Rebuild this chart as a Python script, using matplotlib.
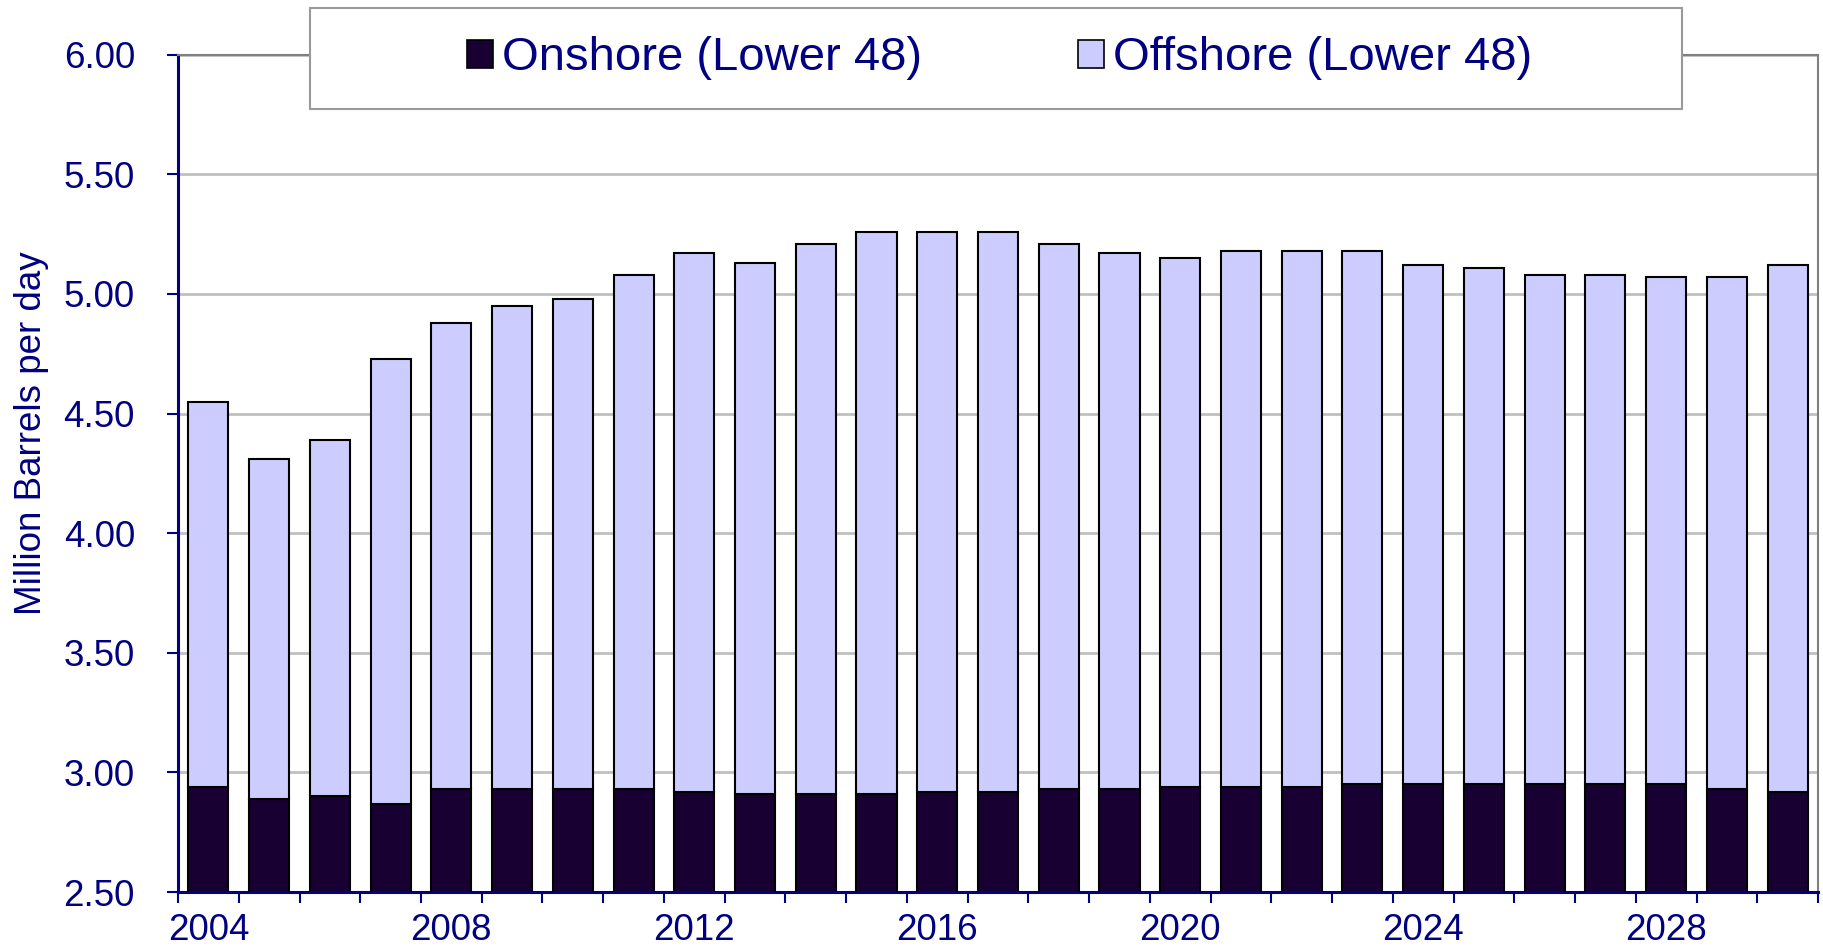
import numpy as np
import matplotlib
matplotlib.use("Agg")
import matplotlib.pyplot as plt
from matplotlib.patches import Rectangle, Patch

# values (million barrels per day)
years = list(range(2004, 2031))
onshore = [2.94, 2.89, 2.90, 2.87, 2.93, 2.93, 2.93, 2.93, 2.92, 2.91,
           2.91, 2.91, 2.92, 2.92, 2.93, 2.93, 2.94, 2.94, 2.94, 2.95,
           2.95, 2.95, 2.95, 2.95, 2.95, 2.93, 2.92]
total = [4.55, 4.31, 4.39, 4.73, 4.88, 4.95, 4.98, 5.08, 5.17, 5.13,
         5.21, 5.26, 5.26, 5.26, 5.21, 5.17, 5.15, 5.18, 5.18, 5.18,
         5.12, 5.11, 5.08, 5.08, 5.07, 5.07, 5.12]
offshore = [t - o for t, o in zip(total, onshore)]
yticks = [2.5, 3.0, 3.5, 4.0, 4.5, 5.0, 5.5, 6.0]
label_years = [2004, 2008, 2012, 2016, 2020, 2024, 2028]

NAVY = "#000080"
plt.rcParams["font.family"] = "Liberation Sans"

fig = plt.figure(figsize=(18.24, 9.52), dpi=100)
ax = fig.add_axes([0.0976, 0.063, 0.8991, 0.8795])

x = np.arange(len(years))
ax.bar(x, onshore, width=0.66, color="#180033", edgecolor="black",
       linewidth=1.5, zorder=3)
ax.bar(x, offshore, bottom=onshore, width=0.66, color="#CCCCFF", edgecolor="black",
       linewidth=1.5, zorder=3)

ax.set_ylim(2.5, 6.0)
ax.set_xlim(-0.5, len(years) - 0.5)
ax.set_yticks(yticks)
ax.set_yticklabels([f"{v:.2f}" for v in yticks])
ax.yaxis.grid(True, color="#C0C0C0", linewidth=2, zorder=0)
ax.set_axisbelow(True)

# category boundary ticks, labels every 4 years
ax.set_xticks(np.arange(-0.5, len(years), 1))
ax.set_xticklabels([])
ax.set_xticks([years.index(y) for y in label_years], minor=True)
ax.set_xticklabels([str(y) for y in label_years], minor=True)
ax.tick_params(axis="x", which="major", direction="out", length=8, width=1.5, color=NAVY)
ax.tick_params(axis="x", which="minor", length=0, pad=15, labelsize=26.5, labelcolor=NAVY)
ax.tick_params(axis="y", direction="out", length=8, width=1.5, color=NAVY, pad=23,
               labelsize=26.5, labelcolor=NAVY)

for side in ["left", "bottom"]:
    ax.spines[side].set_color(NAVY)
    ax.spines[side].set_linewidth(2.2)
for side in ["top", "right"]:
    ax.spines[side].set_color("#808080")
    ax.spines[side].set_linewidth(1.5)

fig.text(0.017, 0.545, "Million Barrels per day", rotation=90, ha="center", va="center",
         fontsize=26.5, color=NAVY)

# legend box sitting over the top of the plot area
fig.add_artist(Rectangle((0.170, 0.8855), 0.752, 0.1061, transform=fig.transFigure,
                         facecolor="white", edgecolor="#999999", linewidth=1.5, zorder=4))
handles = [Patch(facecolor="#180033", edgecolor="black", linewidth=1.2),
           Patch(facecolor="#CCCCFF", edgecolor="black", linewidth=1.2)]
leg = fig.legend(handles, ["Onshore (Lower 48)", "Offshore (Lower 48)"], ncol=2,
                 loc="center", bbox_to_anchor=(0.548, 0.9386), frameon=False,
                 fontsize=34, handlelength=0.55, handleheight=0.55, handletextpad=0.2,
                 columnspacing=3.3, labelcolor=NAVY)
leg.set_zorder(5)

fig.savefig("out.png", dpi=100)
